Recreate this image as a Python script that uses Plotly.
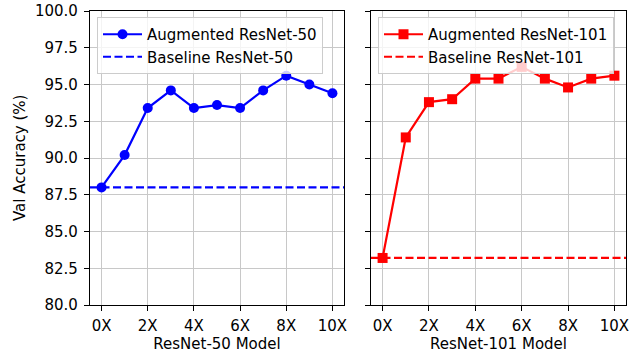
import plotly.graph_objects as go

x_vals = list(range(11))
x_tick_vals = [0, 2, 4, 6, 8, 10]
x_tick_text = ["0X", "2X", "4X", "6X", "8X", "10X"]
y_tick_vals = [80.0, 82.5, 85.0, 87.5, 90.0, 92.5, 95.0, 97.5, 100.0]

aug_r50 = [88.0, 90.2, 93.4, 94.6, 93.4, 93.6, 93.4, 94.6, 95.6, 95.0, 94.4]
base_r50 = 88.0
aug_r101 = [83.2, 91.4, 93.8, 94.0, 95.4, 95.4, 96.2, 95.4, 94.8, 95.4, 95.6]
base_r101 = 83.2

W, H = 639, 356
L, R, T, B = 90, 13, 11, 51
PW, PH = W - L - R, H - T - B
font = "DejaVu Sans"
FS = 15

def px_x(px):
    return (px - L) / PW

def px_y(py):
    return (H - B - py) / PH

fig = go.Figure()

fig.add_trace(go.Scatter(x=x_vals, y=aug_r50, mode="lines+markers", name="Augmented ResNet-50",
                         line=dict(color="#0000ff", width=2.2), marker=dict(symbol="circle", size=10, color="#0000ff"),
                         xaxis="x", yaxis="y", legend="legend"))
fig.add_trace(go.Scatter(x=[-0.5, 10.5], y=[base_r50, base_r50], mode="lines", name="Baseline ResNet-50",
                         line=dict(color="#0000ff", width=2.2, dash="8px,3.5px"),
                         xaxis="x", yaxis="y", legend="legend"))
fig.add_trace(go.Scatter(x=x_vals, y=aug_r101, mode="lines+markers", name="Augmented ResNet-101",
                         line=dict(color="#ff0000", width=2.2), marker=dict(symbol="square", size=10, color="#ff0000"),
                         xaxis="x2", yaxis="y2", legend="legend2"))
fig.add_trace(go.Scatter(x=[-0.5, 10.5], y=[base_r101, base_r101], mode="lines", name="Baseline ResNet-101",
                         line=dict(color="#ff0000", width=2.2, dash="8px,3.5px"),
                         xaxis="x2", yaxis="y2", legend="legend2"))

tf = dict(size=FS, color="black", family=font)
common_x = dict(range=[-0.5, 10.5], tickvals=x_tick_vals, ticktext=x_tick_text,
                showgrid=True, gridcolor="#c8c8c8", gridwidth=1.2, ticks="outside", ticklen=5,
                tickwidth=1.2, tickcolor="black", showline=True, linecolor="black", linewidth=1.2, mirror=True,
                zeroline=False, tickfont=tf, title_font=tf, automargin=False, ticklabelstandoff=2)
common_y = dict(range=[80, 100], tickvals=y_tick_vals, tickformat=".1f",
                showgrid=True, gridcolor="#c8c8c8", gridwidth=1.2, ticks="outside", ticklen=5,
                tickwidth=1.2, tickcolor="black", showline=True, linecolor="black", linewidth=1.2, mirror=True,
                zeroline=False, tickfont=tf, title_font=tf, automargin=False, domain=[0, 1],
                ticklabelstandoff=3)

legend_common = dict(bgcolor="rgba(255,255,255,0.8)", bordercolor="#cccccc", borderwidth=1,
                     font=tf, xanchor="left", yanchor="top", tracegroupgap=0, itemwidth=39)

fig.update_layout(
    width=W, height=H,
    margin=dict(l=L, r=R, t=T, b=B, autoexpand=False),
    paper_bgcolor="white", plot_bgcolor="white",
    font=dict(family=font, size=FS, color="black"),
    xaxis=dict(common_x, domain=[0, px_x(344)], anchor="y", title_text="ResNet-50 Model", title_standoff=4),
    yaxis=dict(common_y, anchor="x"),
    xaxis2=dict(common_x, domain=[px_x(371), 1], anchor="y2", title_text="ResNet-101 Model", title_standoff=4),
    yaxis2=dict(common_y, anchor="x2", showticklabels=False),
    legend=dict(legend_common, x=px_x(97), y=px_y(17)),
    legend2=dict(legend_common, x=px_x(378), y=px_y(17)),
    showlegend=True,
    annotations=[dict(text="Val Accuracy (%)", textangle=-90, xref="paper", yref="paper",
                      x=px_x(20), y=0.5, xanchor="center", yanchor="middle", showarrow=False, font=tf)],
)

fig.write_html("out.html", config={"displayModeBar": False},
               post_script="document.body.style.margin='0';document.body.style.padding='0';")
